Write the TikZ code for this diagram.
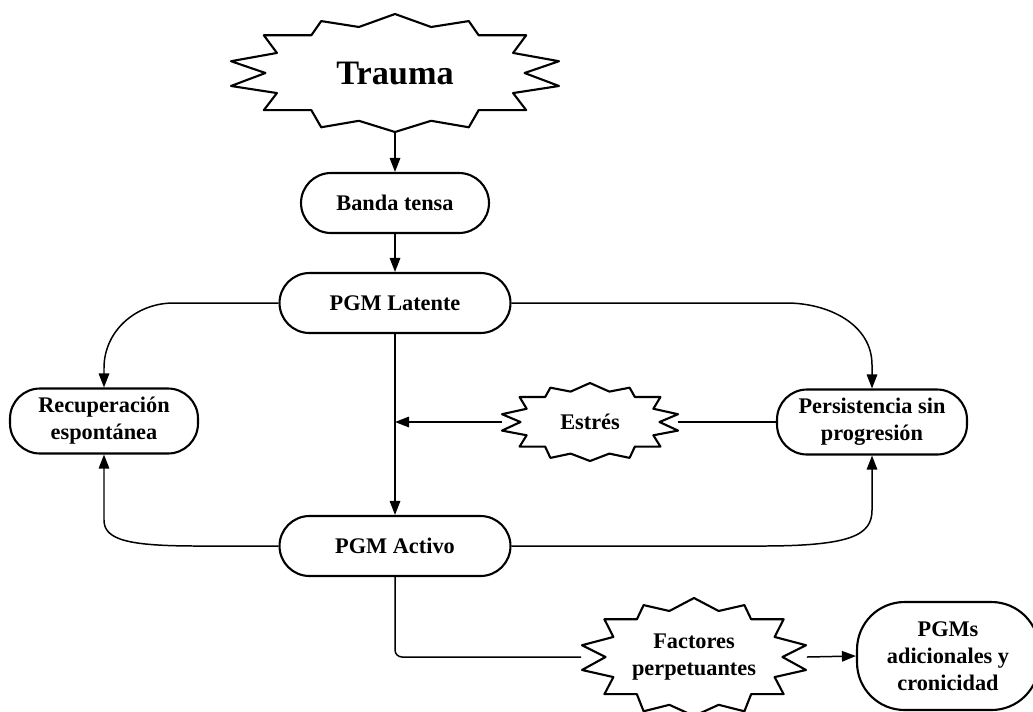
\documentclass[tikz,border=0pt]{standalone}
\usepackage{fontspec}
\setmainfont{Liberation Serif}
\usetikzlibrary{arrows.meta,positioning,calc}

\begin{document}
\begin{tikzpicture}[x=0.02cm, y=0.02cm,
  every node/.style={font=\bfseries\fontsize{12.7}{15.3}\selectfont, align=center},
  pill/.style={draw, line width=1.2pt, rounded corners=0.6cm, minimum height=1.2cm, inner sep=2pt},
  burstline/.style={line width=1.2pt, line join=round},
  link/.style={line width=0.85pt},
  arr/.style={link, -{Triangle[length=8pt,width=6pt]}}]
\clip (0,0) rectangle (1033,-711);
% nodes
\node[font=\bfseries\fontsize{19.5}{22}\selectfont, minimum width=6.56cm, minimum height=2.36cm] (trauma) at (395,-73) {Trauma};
\node[pill, minimum width=3.76cm] (banda) at (395,-203) {Banda tensa};
\node[pill, minimum width=4.62cm] (latente) at (395,-303) {PGM Latente};
\node[pill, minimum width=3.76cm, minimum height=1.3cm] (recup) at (104,-421) {Recuperación\\espontánea};
\node[pill, minimum width=4.62cm] (activo) at (395,-546) {PGM Activo};
\node[pill, minimum width=3.8cm, minimum height=1.3cm] (persist) at (872,-422) {Persistencia sin\\progresión};
\node[minimum width=3.52cm, minimum height=1.56cm] (estres) at (590,-422) {Estrés};
\node[minimum width=4.5cm, minimum height=2.36cm] (factores) at (694,-657) {Factores\\perpetuantes};
\node[pill, rounded corners=0.95cm, minimum width=3.64cm, minimum height=2.16cm] (pgms) at (948,-656) {PGMs\\adicionales y\\cronicidad};
% burst outlines
\foreach \n/\w/\h in {trauma/164/59, estres/88/39, factores/112/59} {
  \draw[burstline, shift={(\n.center)}, xscale=\w, yscale=\h]
    (0,1) -- (0.22,0.78) -- (0.45,0.88) -- (0.51,0.64) -- (0.80,0.64) -- (0.72,0.34)
    -- (1,0.2) -- (0.79,0) -- (1,-0.22) -- (0.72,-0.34) -- (0.80,-0.63) -- (0.51,-0.63)
    -- (0.45,-0.92) -- (0.22,-0.81) -- (0,-1) -- (-0.22,-0.81) -- (-0.45,-0.92)
    -- (-0.51,-0.63) -- (-0.80,-0.63) -- (-0.72,-0.34) -- (-1,-0.22) -- (-0.79,0)
    -- (-1,0.2) -- (-0.72,0.34) -- (-0.80,0.64) -- (-0.51,0.64) -- (-0.45,0.88)
    -- (-0.22,0.78) -- cycle;
}
% connectors
\draw[arr] (trauma.south) -- (banda.north);
\draw[arr] (banda) -- (latente);
\draw[arr] (latente) -- (activo);
\draw[arr] (latente.west) -- ++(-105,0) to[out=180,in=90] (recup.north |- 0,-368) -- (recup.north);
\draw[arr] (latente.east) -- ++(275,0) to[out=0,in=90] (persist.north |- 0,-365) -- (persist.north);
\draw[arr] (activo.west) -- ++(-80,0) .. controls ++(-70,0) and ($(recup.south |- 0,-540)$) .. (recup.south |- 0,-520) -- (recup.south);
\draw[arr] (activo.east) -- ++(250,0) .. controls ++(90,0) and ($(persist.south |- 0,-535)$) .. (persist.south |- 0,-510) -- (persist.south);
\draw[link] (persist.west) -- (estres.east);
\draw[arr] (estres.west) -- (latente.south |- estres.west);
\draw[link, rounded corners=4pt] (activo.south) |- (factores.west);
\draw[arr] (factores.east) -- (pgms.west);
\end{tikzpicture}
\end{document}
